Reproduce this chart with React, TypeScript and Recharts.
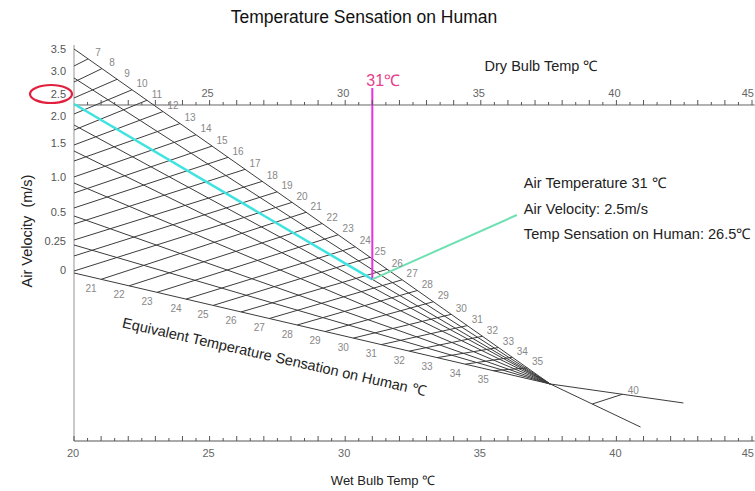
import React from 'react';
import { ComposedChart, XAxis, YAxis, ReferenceLine, Scatter } from 'recharts';

const CHART_W = 755;
const CHART_H = 491;
const FONT = '"Liberation Sans", Arial, sans-serif';

// ---- Air velocity scale (left axis), nomogram height units ----
const velocityLabels = ['3.5', '3.0', '2.5', '2.0', '1.5', '1.0', '0.5', '0.25', '0'];
const velocityLineY = [39.6, 36.67, 34.04, 31.92, 29.29, 26.06, 22.73, 19.8, 16.97];
const velocityLabelY = [39.6, 37.37, 35.05, 32.83, 30.1, 26.67, 23.13, 20.2, 17.27];

// point where all grid lines converge
const focusPoint = { x: 37.56, y: 5.76 };

// equivalent temperature marks on the upper edge (3.5 m/s)
const etUpperValues = [7, 8, 9, 10, 11, 12, 13, 14, 15, 16, 17, 18, 19, 20, 21, 22, 23, 24, 25, 26, 27, 28, 29, 30, 31, 32, 33, 34, 35];
const etUpperX = [20.52, 21.03, 21.59, 22.14, 22.69, 23.28, 23.91, 24.5, 25.09, 25.68, 26.31, 26.94, 27.49, 28.04, 28.56, 29.15, 29.74, 30.37, 30.92, 31.55, 32.1, 32.66, 33.25, 33.91, 34.5, 35.06, 35.65, 36.16, 36.72];

// equivalent temperature marks on the lower edge (0 m/s)
const etLowerValues = [21, 22, 23, 24, 25, 26, 27, 28, 29, 30, 31, 32, 33, 34, 35];
const etLowerX = [21.0, 22.03, 23.06, 24.13, 25.13, 26.16, 27.2, 28.23, 29.26, 30.3, 31.33, 32.36, 33.39, 34.43, 35.46];

// equivalent temperature lines 7..20 meet the left axis here
const etLeftAxisY = [37.88, 36.26, 34.65, 33.03, 31.41, 29.9, 28.28, 26.67, 25.05, 23.54, 21.92, 20.3, 18.69, 17.17];

// temperature axes
const dryBulbLabels = [25, 30, 35, 40, 45];
const wetBulbLabels = [20, 25, 30, 35, 40, 45];
const dryBulbAxisLevel = 33.94;
const wetBulbAxisLevel = 0;

// worked example
const exampleDryBulb = 31;
const exampleVelocityIndex = 2;
const exampleMarkerTop = 35.66;
const calloutEnd = { x: 36.33, y: 22.83 };
const calloutLines = ['Air Temperature 31 \u2103', 'Air Velocity: 2.5m/s', 'Temp Sensation on Human: 26.5\u2103'];

// tail beyond the convergence point
const tailEnds = [{ x: 42.47, y: 3.84 }, { x: 40.89, y: 1.41 }];
const tail40 = { lowerX: 39.11, upperX: 40.22, label: '40' };

type Pt = { x: number; y: number };
const lerpY = (a: Pt, b: Pt, x: number) => a.y + ((x - a.x) * (b.y - a.y)) / (b.x - a.x);

const upperStart = { x: 20, y: velocityLineY[0] };
const lowerStart = { x: 20, y: velocityLineY[velocityLineY.length - 1] };

const velocitySegments: Pt[][] = velocityLineY.map((y) => [{ x: 20, y }, focusPoint]);

const etSegments: Pt[][] = etUpperValues.map((t, i) => {
  const top = { x: etUpperX[i], y: lerpY(upperStart, focusPoint, etUpperX[i]) };
  const li = etLowerValues.indexOf(t);
  const bottom =
    li >= 0
      ? { x: etLowerX[li], y: lerpY(lowerStart, focusPoint, etLowerX[li]) }
      : { x: 20, y: etLeftAxisY[i] };
  return [bottom, top];
});

const tailSegments: Pt[][] = [
  [focusPoint, tailEnds[0]],
  [focusPoint, tailEnds[1]],
  [
    { x: tail40.lowerX, y: lerpY(focusPoint, tailEnds[1], tail40.lowerX) },
    { x: tail40.upperX, y: lerpY(focusPoint, tailEnds[0], tail40.upperX) },
  ],
];

const exampleStart = { x: 20, y: velocityLineY[exampleVelocityIndex] };
const exampleEnd = { x: exampleDryBulb, y: lerpY(exampleStart, focusPoint, exampleDryBulb) };

const upperLabelData = etUpperValues.map((t, i) => ({
  x: etUpperX[i],
  y: lerpY(upperStart, focusPoint, etUpperX[i]),
  label: String(t),
}));
const lowerLabelData = etLowerValues.map((t, i) => ({
  x: etLowerX[i],
  y: lerpY(lowerStart, focusPoint, etLowerX[i]),
  label: String(t),
}));
const velocityLabelData = velocityLabels.map((l, i) => ({ x: 20, y: velocityLabelY[i], label: l }));

const halfSteps = (from: number, to: number) => {
  const out: { x: number; major: boolean }[] = [];
  for (let v = from; v <= to + 1e-9; v += 0.5) out.push({ x: v, major: Math.abs(v - Math.round(v)) < 1e-9 });
  return out;
};
const dryTicks = halfSteps(20.5, 45).map((t) => ({ ...t, y: dryBulbAxisLevel }));
const wetTicks = halfSteps(20, 45).map((t) => ({ ...t, y: wetBulbAxisLevel }));
const dryLabelData = dryBulbLabels.map((v) => ({ x: v, y: dryBulbAxisLevel, label: String(v) }));
const wetLabelData = wetBulbLabels.map((v) => ({ x: v, y: wetBulbAxisLevel, label: String(v) }));

type TextOpts = {
  dx: number;
  dy: number;
  size: number;
  fill: string;
  anchor?: 'start' | 'middle' | 'end';
  family?: string;
  edgeSafe?: boolean;
};
const makeText = (o: TextOpts) => (p: any) => {
  if (p == null || p.cx == null || p.cy == null) return <g />;
  let x = p.cx + o.dx;
  let anchor: string = o.anchor ?? 'middle';
  if (o.edgeSafe && x > CHART_W - 10) {
    x = CHART_W - 1;
    anchor = 'end';
  }
  return (
    <text
      x={x}
      y={p.cy + o.dy}
      fontSize={o.size}
      fill={o.fill}
      textAnchor={anchor}
      dominantBaseline="central"
      fontFamily={o.family ?? FONT}
      style={{ whiteSpace: 'pre' }}
    >
      {p.payload.label}
    </text>
  );
};

const tickShape = (p: any) => {
  if (p == null || p.cx == null) return <g />;
  const len = p.payload.major ? 5 : 3;
  return <line x1={p.cx} x2={p.cx} y1={p.cy} y2={p.cy - len} stroke="#555" strokeWidth={1} />;
};

const ellipseShape = (p: any) => {
  if (p == null || p.cx == null) return <g />;
  return <ellipse cx={p.cx - 23} cy={p.cy} rx={21} ry={9} fill="none" stroke="#e0203c" strokeWidth={2.2} />;
};

const calloutShape = (p: any) => {
  if (p == null || p.cx == null) return <g />;
  const offs = [-32, -6, 19];
  return (
    <g>
      {calloutLines.map((t, i) => (
        <text
          key={i}
          x={p.cx + 7}
          y={p.cy + offs[i]}
          fontSize={14.6}
          fill="#222"
          dominantBaseline="central"
          fontFamily={FONT}
        >
          {t}
        </text>
      ))}
    </g>
  );
};

const GRID = '#3c3c3c';

const seg = (s: Pt[], key: string, stroke: string, width: number) => (
  <ReferenceLine
    key={key}
    segment={[
      { x: s[0].x, y: s[0].y },
      { x: s[1].x, y: s[1].y },
    ]}
    stroke={stroke}
    strokeWidth={width}
    ifOverflow="visible"
  />
);

const abs = (left: number, top: number, extra: React.CSSProperties = {}): React.CSSProperties => ({
  position: 'absolute',
  left,
  top,
  transform: 'translate(-50%, -50%)',
  whiteSpace: 'pre',
  lineHeight: 1,
  fontFamily: FONT,
  pointerEvents: 'none',
  ...extra,
});

export default function App() {
  return (
    <div style={{ position: 'absolute', left: 0, top: 0, width: CHART_W, height: CHART_H, background: '#fff', overflow: 'hidden' }}>
      <ComposedChart
        width={CHART_W}
        height={CHART_H}
        margin={{ top: 45, right: 3, bottom: 50, left: 74 }}
        style={{ overflow: 'visible' }}
      >
        <XAxis type="number" dataKey="x" domain={[20, 45]} hide />
        <YAxis type="number" dataKey="y" domain={[0, 40]} hide />

        {/* left axis */}
        {seg([{ x: 20, y: 0 }, { x: 20, y: 40 }], 'left-axis', '#b8b8b8', 1.5)}
        {/* wet bulb axis */}
        {seg([{ x: 20, y: wetBulbAxisLevel }, { x: 45.1, y: wetBulbAxisLevel }], 'wet-axis', '#555', 1)}
        {/* dry bulb axis */}
        {seg([{ x: 20, y: dryBulbAxisLevel }, { x: 45.1, y: dryBulbAxisLevel }], 'dry-axis', '#666', 1)}

        {velocitySegments.map((s, i) => seg(s, `v${i}`, GRID, 1))}
        {etSegments.map((s, i) => seg(s, `et${i}`, GRID, 1))}
        {tailSegments.map((s, i) => seg(s, `tail${i}`, GRID, 1))}

        {/* worked example */}
        {seg([exampleStart, exampleEnd], 'cyan', '#3fe3e0', 2.5)}
        {seg([{ x: exampleDryBulb, y: exampleMarkerTop }, exampleEnd], 'magenta', '#e632dc', 2)}
        {seg([exampleEnd, calloutEnd], 'callout', '#6fe0b2', 2)}

        <Scatter data={dryTicks} dataKey="y" shape={tickShape} isAnimationActive={false} />
        <Scatter data={wetTicks} dataKey="y" shape={tickShape} isAnimationActive={false} />
        <Scatter
          data={dryLabelData}
          dataKey="y"
          shape={makeText({ dx: -2, dy: -12, size: 11, fill: '#666', edgeSafe: true })}
          isAnimationActive={false}
        />
        <Scatter
          data={wetLabelData}
          dataKey="y"
          shape={makeText({ dx: -1, dy: 12, size: 11, fill: '#666', edgeSafe: true })}
          isAnimationActive={false}
        />
        <Scatter
          data={velocityLabelData}
          dataKey="y"
          shape={makeText({ dx: -8, dy: 0, size: 11, fill: '#555', anchor: 'end' })}
          isAnimationActive={false}
        />
        <Scatter
          data={[velocityLabelData[exampleVelocityIndex]]}
          dataKey="y"
          shape={ellipseShape}
          isAnimationActive={false}
        />
        <Scatter
          data={upperLabelData}
          dataKey="y"
          shape={makeText({ dx: 10, dy: -6, size: 10, fill: '#888' })}
          isAnimationActive={false}
        />
        <Scatter
          data={lowerLabelData}
          dataKey="y"
          shape={makeText({ dx: -10, dy: 9, size: 10, fill: '#888' })}
          isAnimationActive={false}
        />
        <Scatter
          data={[{ x: tail40.upperX, y: lerpY(focusPoint, tailEnds[0], tail40.upperX), label: tail40.label }]}
          dataKey="y"
          shape={makeText({ dx: 11, dy: -4, size: 10, fill: '#888' })}
          isAnimationActive={false}
        />
        <Scatter
          data={[{ x: exampleDryBulb, y: exampleMarkerTop, label: '31\u2103' }]}
          dataKey="y"
          shape={makeText({ dx: -6, dy: -7, size: 16, fill: '#e8408a', anchor: 'start' })}
          isAnimationActive={false}
        />
        <Scatter data={[calloutEnd]} dataKey="y" shape={calloutShape} isAnimationActive={false} />
      </ComposedChart>

      <div style={abs(364, 18, { fontSize: 17.5, color: '#111' })}>Temperature Sensation on Human</div>
      <div style={abs(541, 66, { fontSize: 14.5, color: '#222' })}>{'Dry Bulb Temp \u2103'}</div>
      <div style={abs(383, 480, { fontSize: 13, color: '#222' })}>{'Wet Bulb Temp \u2103'}</div>
      <div style={abs(27, 231, { fontSize: 14.5, color: '#222', transform: 'translate(-50%, -50%) rotate(-90deg)' })}>
        {'Air Velocity  (m/s)'}
      </div>
      <div style={abs(274, 357, { fontSize: 14.5, color: '#222', transform: 'translate(-50%, -50%) rotate(12.8deg)' })}>
        {'Equivalent Temperature Sensation on Human \u2103'}
      </div>
    </div>
  );
}
